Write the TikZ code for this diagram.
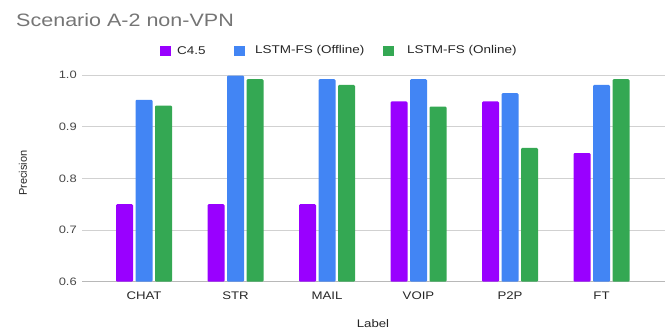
\documentclass[tikz,border=0pt]{standalone}
\usepackage{fontspec}
\setmainfont{Liberation Sans}[FakeStretch=1.2]
\newfontfamily\plainsans{Liberation Sans}

\begin{document}
\begin{tikzpicture}[x=0.03cm, y=0.03cm,
    title/.style={font=\fontsize{15.3}{18}\selectfont, text=black!54, anchor=base west, inner sep=0pt},
    legendtext/.style={font=\fontsize{9.6}{11}\selectfont, text=black!85, anchor=west, inner sep=0pt},
    ticklab/.style={font=\fontsize{9.2}{11}\selectfont, text=black!72, anchor=east, inner sep=0pt},
    catlab/.style={font=\fontsize{9.4}{11}\selectfont, text=black!85, inner sep=0pt},
    axislab/.style={font=\fontsize{9.4}{11}\selectfont, text=black!85, inner sep=0pt},
    gridline/.style={draw=black!18, line width=0.6pt},
    bar/.style={rounded corners=1pt}]

    % colours of the three series
    \definecolor{CFour}{RGB}{153, 0, 255}
    \definecolor{Offline}{RGB}{66, 133, 244}
    \definecolor{Online}{RGB}{52, 168, 83}

    \useasboundingbox (0,0) rectangle (665,330);

    % title and legend
    \node[title] (title) at (16,303.5) {Scenario A-2 non-VPN};
    \fill[CFour] (160,274) rectangle (171,284);
    \node[legendtext] (legc) at (177,279) {C4.5};
    \fill[Offline] (234,274) rectangle (245,284);
    \node[legendtext] (legoff) at (255,279) {LSTM-FS (Offline)};
    \fill[Online] (383,274) rectangle (394,284);
    \node[legendtext] (legon) at (407,279) {LSTM-FS (Online)};

    % axis titles
    \node[axislab, rotate=90, font=\plainsans\fontsize{9.4}{11}\selectfont] (ylab) at (23,157) {Precision};
    \node[axislab] (xlab) at (373,6) {Label};

    \begin{scope}[y=15.5cm, yshift=-7.851cm]
        % grid and y ticks
        \draw[gridline] (82,1.0) -- (665,1.0);
        \draw[gridline] (82,0.9) -- (665,0.9);
        \draw[gridline] (82,0.8) -- (665,0.8);
        \draw[gridline] (82,0.7) -- (665,0.7);
        \draw[gridline, draw=black!28] (82,0.6) -- (665,0.6);
        \node[ticklab] (t10) at (77,1.0) {1.0};
        \node[ticklab] (t09) at (77,0.9) {0.9};
        \node[ticklab] (t08) at (77,0.8) {0.8};
        \node[ticklab] (t07) at (77,0.7) {0.7};
        \node[ticklab] (t06) at (77,0.6) {0.6};

        % CHAT
        \fill[bar, CFour] (116,0.6) rectangle (133,0.75);
        \fill[bar, Offline] (135.5,0.6) rectangle (152.5,0.952);
        \fill[bar, Online] (155,0.6) rectangle (172,0.941);
        % STR
        \fill[bar, CFour] (207.5,0.6) rectangle (224.5,0.75);
        \fill[bar, Offline] (227,0.6) rectangle (244,0.999);
        \fill[bar, Online] (246.5,0.6) rectangle (263.5,0.992);
        % MAIL
        \fill[bar, CFour] (299,0.6) rectangle (316,0.75);
        \fill[bar, Offline] (318.5,0.6) rectangle (335.5,0.992);
        \fill[bar, Online] (338,0.6) rectangle (355,0.981);
        % VOIP
        \fill[bar, CFour] (390.5,0.6) rectangle (407.5,0.949);
        \fill[bar, Offline] (410,0.6) rectangle (427,0.992);
        \fill[bar, Online] (429.5,0.6) rectangle (446.5,0.939);
        % P2P
        \fill[bar, CFour] (482,0.6) rectangle (499,0.949);
        \fill[bar, Offline] (501.5,0.6) rectangle (518.5,0.965);
        \fill[bar, Online] (521,0.6) rectangle (538,0.859);
        % FT
        \fill[bar, CFour] (573.5,0.6) rectangle (590.5,0.849);
        \fill[bar, Offline] (593,0.6) rectangle (610,0.981);
        \fill[bar, Online] (612.5,0.6) rectangle (629.5,0.992);
    \end{scope}

    % category labels
    \node[catlab] (chat) at (144,34) {CHAT};
    \node[catlab] (str) at (235.5,34) {STR};
    \node[catlab] (mail) at (327,34) {MAIL};
    \node[catlab] (voip) at (418.5,34) {VOIP};
    \node[catlab] (ptp) at (510,34) {P2P};
    \node[catlab] (ft) at (601.5,34) {FT};

\end{tikzpicture}
\end{document}
